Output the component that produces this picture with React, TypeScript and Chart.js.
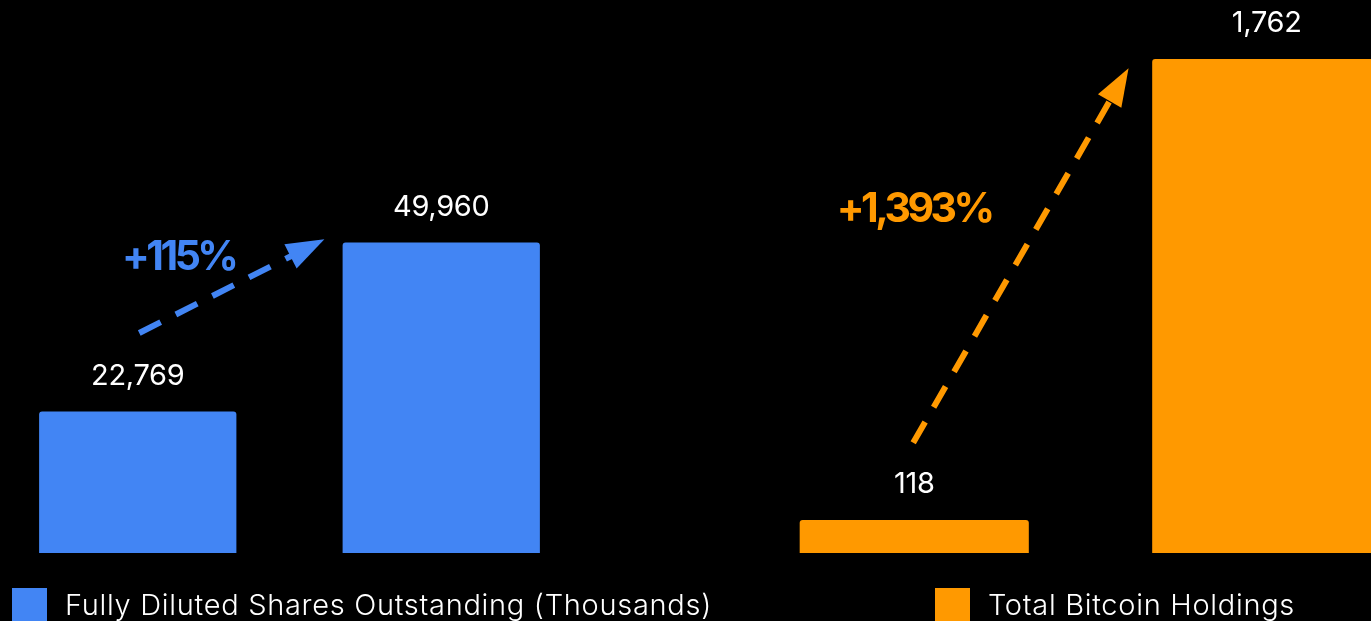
import React, { useEffect, useRef } from "react";
import { Chart, registerables } from "chart.js";

Chart.register(...registerables);

// ---- data ----
const sharesCategories = ["Start", "Now"];
const sharesValues = [22769, 49960];
const sharesLabel = "Fully Diluted Shares Outstanding (Thousands)";
const sharesChangeText = "+115%";

const bitcoinCategories = ["Start", "Now"];
const bitcoinValues = [118, 1762];
const bitcoinLabel = "Total Bitcoin Holdings";
const bitcoinChangeText = "+1,393%";

const BLUE = "#4285F4";
const ORANGE = "#FF9900";
const FONT = "Inter, 'Open Sans', sans-serif";

type Cfg = {
  categories: string[];
  values: number[];
  label: string;
  color: string;
  yMax: number;
  changeText: string;
  changeAt: [number, number]; // data space (category index, value)
  arrowFrom: [number, number];
  arrowTo: [number, number];
  legendOffset: number;
};

const annotatePlugin = {
  id: "annotate",
  afterDatasetsDraw(chart: any, _args: any, opts: any) {
    const cfg: Cfg = opts.cfg;
    if (!cfg) return;
    const { ctx, chartArea } = chart;
    const xs = chart.scales.x;
    const ys = chart.scales.y;
    const meta = chart.getDatasetMeta(0);
    const ds = chart.data.datasets[0];
    ctx.save();

    // value labels
    ctx.fillStyle = "#ffffff";
    ctx.font = `400 29px ${FONT}`;
    ctx.textAlign = "center";
    ctx.textBaseline = "alphabetic";
    (ctx as any).letterSpacing = "-0.3px";
    meta.data.forEach((bar: any, i: number) => {
      const v = ds.data[i] as number;
      ctx.fillText(v.toLocaleString("en-US"), bar.x, bar.y - 27);
    });

    // change text
    ctx.fillStyle = cfg.color;
    ctx.font = `700 41px ${FONT}`;
    (ctx as any).letterSpacing = "-3.5px";
    ctx.fillText(
      cfg.changeText,
      xs.getPixelForValue(cfg.changeAt[0]),
      ys.getPixelForValue(cfg.changeAt[1])
    );
    (ctx as any).letterSpacing = "0px";

    // dashed arrow
    const sx = xs.getPixelForValue(cfg.arrowFrom[0]);
    const sy = ys.getPixelForValue(cfg.arrowFrom[1]);
    const tx = xs.getPixelForValue(cfg.arrowTo[0]);
    const ty = ys.getPixelForValue(cfg.arrowTo[1]);
    const dx = tx - sx;
    const dy = ty - sy;
    const len = Math.hypot(dx, dy);
    const ux = dx / len;
    const uy = dy / len;
    const headLen = 38;
    const headHalf = 13.5;
    const bx = tx - ux * headLen;
    const by = ty - uy * headLen;
    ctx.strokeStyle = cfg.color;
    ctx.lineWidth = 6;
    ctx.lineCap = "butt";
    ctx.setLineDash([24, 17]);
    ctx.beginPath();
    ctx.moveTo(sx, sy);
    ctx.lineTo(bx + ux * 2, by + uy * 2);
    ctx.stroke();
    ctx.setLineDash([]);
    ctx.fillStyle = cfg.color;
    ctx.beginPath();
    ctx.moveTo(tx, ty);
    ctx.lineTo(bx - uy * headHalf, by + ux * headHalf);
    ctx.lineTo(bx + uy * headHalf, by - ux * headHalf);
    ctx.closePath();
    ctx.fill();

    // legend
    const lx = chartArea.left + cfg.legendOffset;
    const ly = chartArea.bottom + 35;
    ctx.fillStyle = cfg.color;
    ctx.fillRect(lx, ly, 35, 35);
    ctx.fillStyle = "#ffffff";
    ctx.font = `300 29px ${FONT}`;
    (ctx as any).letterSpacing = "0.7px";
    ctx.textAlign = "left";
    ctx.fillText(ds.label, lx + 53, ly + 27);

    ctx.restore();
  },
};

function BarPanel({
  cfg,
  left,
  width,
  padRight,
}: {
  cfg: Cfg;
  left: number;
  width: number;
  padRight: number;
}) {
  const ref = useRef<HTMLCanvasElement | null>(null);
  useEffect(() => {
    if (!ref.current) return;
    const chart = new Chart(ref.current, {
      type: "bar",
      data: {
        labels: cfg.categories,
        datasets: [
          {
            label: cfg.label,
            data: cfg.values,
            backgroundColor: cfg.color,
            borderRadius: 3,
            barPercentage: 0.65,
            categoryPercentage: 1,
          },
        ],
      },
      options: {
        responsive: false,
        animation: false,
        devicePixelRatio: 1,
        layout: { padding: { top: 0, bottom: 87, left: 0, right: padRight } },
        scales: {
          x: { display: false, grid: { display: false } },
          y: { display: false, min: 0, max: cfg.yMax, grid: { display: false } },
        },
        plugins: {
          legend: { display: false },
          tooltip: { enabled: false },
          annotate: { cfg },
        } as any,
      },
      plugins: [annotatePlugin],
    });
    return () => chart.destroy();
  }, [cfg, padRight]);
  return (
    <canvas
      ref={ref}
      width={width}
      height={640}
      style={{ position: "absolute", left, top: 0, width, height: 640 }}
    />
  );
}

const sharesCfg: Cfg = {
  categories: sharesCategories,
  values: sharesValues,
  label: sharesLabel,
  color: BLUE,
  yMax: 89000,
  changeText: sharesChangeText,
  changeAt: [0.135, 45500],
  arrowFrom: [0.005, 35400],
  arrowTo: [0.615, 50500],
  legendOffset: 26,
};

const bitcoinCfg: Cfg = {
  categories: bitcoinCategories,
  values: bitcoinValues,
  label: bitcoinLabel,
  color: ORANGE,
  yMax: 1972,
  changeText: bitcoinChangeText,
  changeAt: [0, 1181],
  arrowFrom: [-0.003, 393],
  arrowTo: [0.608, 1729],
  legendOffset: 197,
};

export default function App() {
  return (
    <div
      style={{
        position: "fixed",
        left: 0,
        top: 0,
        width: 1371,
        height: 621,
        overflow: "hidden",
        background: "#000000",
      }}
    >
      <BarPanel cfg={sharesCfg} left={-14} width={787} padRight={180} />
      <BarPanel cfg={bitcoinCfg} left={738} width={705} padRight={0} />
    </div>
  );
}
